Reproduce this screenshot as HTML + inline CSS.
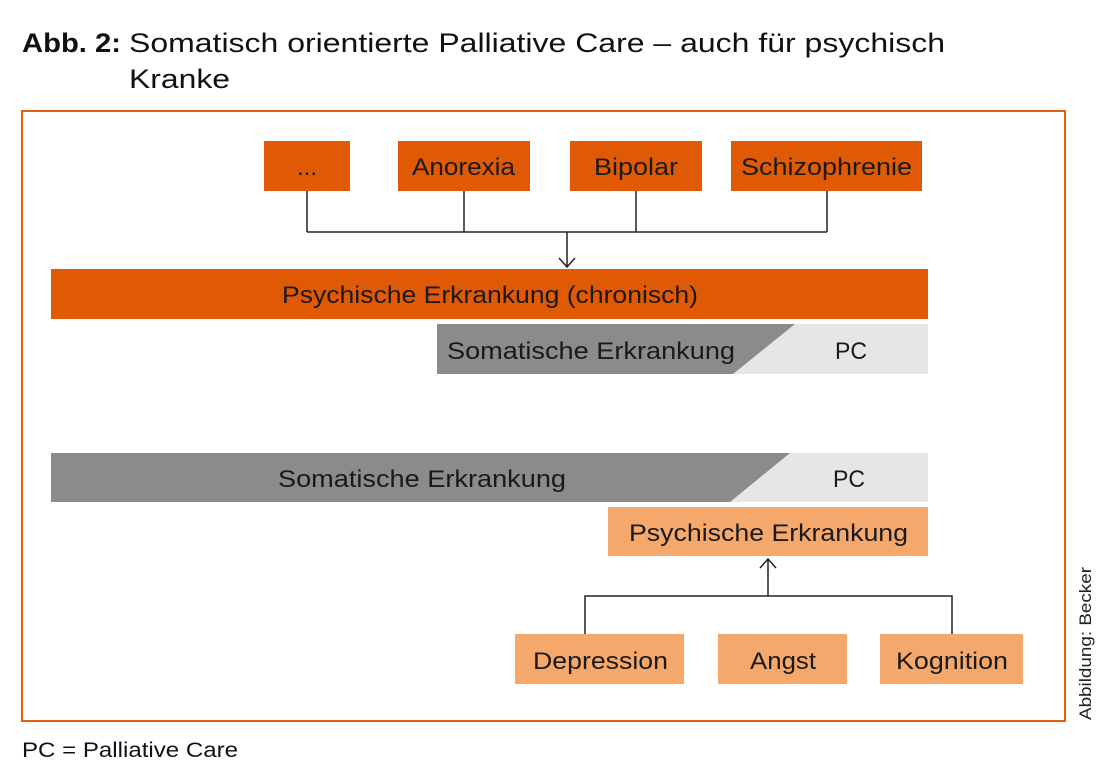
<!DOCTYPE html>
<html><head><meta charset="utf-8"><style>
html,body{margin:0;padding:0;background:#fff;}
svg{display:block;font-family:"Liberation Sans",sans-serif;}
</style></head><body>
<svg width="1100" height="774" viewBox="0 0 1100 774" xmlns="http://www.w3.org/2000/svg">
<text x="22" y="52" font-size="27" font-weight="bold" fill="#111" textLength="99" lengthAdjust="spacingAndGlyphs">Abb. 2:</text>
<text x="129" y="52" font-size="27" fill="#111" textLength="816" lengthAdjust="spacingAndGlyphs">Somatisch orientierte Palliative Care – auch für psychisch</text>
<text x="129" y="88" font-size="27" fill="#111" textLength="101" lengthAdjust="spacingAndGlyphs">Kranke</text>
<rect x="22" y="111" width="1043" height="610" fill="none" stroke="#e2600f" stroke-width="2"/>
<g fill="#e05a06">
<rect x="264" y="141" width="86" height="50"/>
<rect x="398" y="141" width="132" height="50"/>
<rect x="570" y="141" width="132" height="50"/>
<rect x="731" y="141" width="191" height="50"/>
<rect x="51" y="269" width="877" height="50"/>
</g>
<g font-size="24" fill="#1a1a1a" lengthAdjust="spacingAndGlyphs">
<text x="297" y="175">...</text>
<text x="412" y="175" textLength="103" lengthAdjust="spacingAndGlyphs">Anorexia</text>
<text x="594" y="175" textLength="84" lengthAdjust="spacingAndGlyphs">Bipolar</text>
<text x="741" y="175" textLength="171" lengthAdjust="spacingAndGlyphs">Schizophrenie</text>
<text x="282" y="303" textLength="416" lengthAdjust="spacingAndGlyphs">Psychische Erkrankung (chronisch)</text>
</g>
<g stroke="#222" stroke-width="1.5" fill="none">
<path d="M307 191V232M464 191V232M636 191V232M827 191V232M307 232H827M567 232V267M559 258L567 267L575 258"/>
<path d="M768 596V559M760 568L768 559L776 568M585 634V596H952V634"/>
</g>
<rect x="437" y="324" width="491" height="50" fill="#e6e6e6"/>
<polygon points="437,324 795,324 733,374 437,374" fill="#8a8b8a"/>
<g font-size="24" fill="#1a1a1a">
<text x="447" y="359" textLength="288" lengthAdjust="spacingAndGlyphs">Somatische Erkrankung</text>
<text x="835" y="359" textLength="32" lengthAdjust="spacingAndGlyphs">PC</text>
</g>
<rect x="51" y="453" width="877" height="49" fill="#e6e6e6"/>
<polygon points="51,453 790,453 730,502 51,502" fill="#8a8b8a"/>
<g font-size="24" fill="#1a1a1a">
<text x="278" y="487" textLength="288" lengthAdjust="spacingAndGlyphs">Somatische Erkrankung</text>
<text x="833" y="487" textLength="32" lengthAdjust="spacingAndGlyphs">PC</text>
</g>
<g fill="#f4a86c">
<rect x="608" y="507" width="320" height="49"/>
<rect x="515" y="634" width="169" height="50"/>
<rect x="718" y="634" width="129" height="50"/>
<rect x="880" y="634" width="143" height="50"/>
</g>
<g font-size="24" fill="#1a1a1a">
<text x="629" y="541" textLength="279" lengthAdjust="spacingAndGlyphs">Psychische Erkrankung</text>
<text x="533" y="669" textLength="135" lengthAdjust="spacingAndGlyphs">Depression</text>
<text x="750" y="669" textLength="66" lengthAdjust="spacingAndGlyphs">Angst</text>
<text x="896" y="669" textLength="112" lengthAdjust="spacingAndGlyphs">Kognition</text>
</g>
<text x="22" y="757" font-size="21" fill="#111" textLength="216" lengthAdjust="spacingAndGlyphs">PC = Palliative Care</text>
<text transform="translate(1091,720) rotate(-90)" font-size="17" fill="#222" textLength="153" lengthAdjust="spacingAndGlyphs">Abbildung: Becker</text>
</svg>
</body></html>
